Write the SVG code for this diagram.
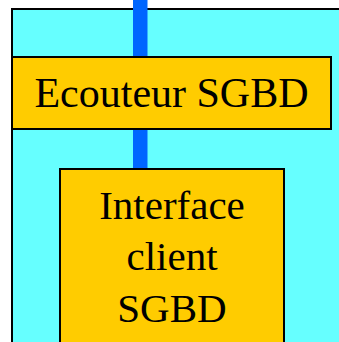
<svg xmlns="http://www.w3.org/2000/svg" width="339" height="342" viewBox="0 0 339 342">
<style>
.box{fill:#FFCC00;stroke:#000;stroke-width:2}
.t{font-family:"Liberation Serif","Times New Roman",serif;fill:#000;text-anchor:middle}
</style>
<rect width="339" height="342" fill="#fff"/>
<g id="container"><rect x="12" y="9" width="340" height="345" fill="#66FFFF" stroke="#000" stroke-width="2"/></g>
<g id="connectors"><rect x="133" y="0" width="14.5" height="170" fill="#0066FF"/></g>
<g id="ecouteur"><rect class="box" x="12" y="57" width="319" height="72"/><text class="t" x="171.5" y="107" font-size="42">Ecouteur SGBD</text></g>
<g id="interface"><rect class="box" x="60" y="169" width="224" height="190"/><text class="t" font-size="41"><tspan x="172" y="219">Interface</tspan><tspan x="172" y="270">client</tspan><tspan x="172" y="322">SGBD</tspan></text></g>
</svg>
